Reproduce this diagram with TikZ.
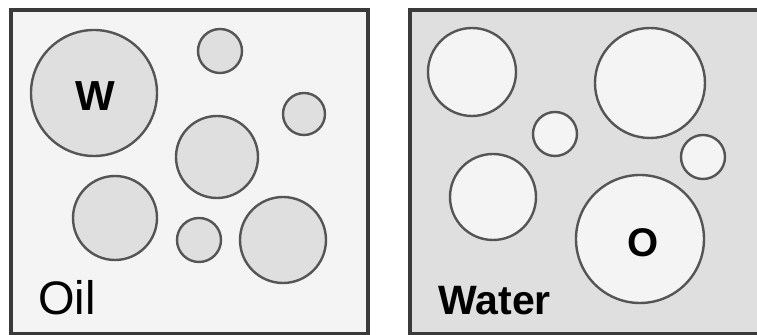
\documentclass[tikz,border=0pt]{standalone}
\usepackage{fontspec}
\setmainfont{Liberation Sans}
\usepackage{tikz}
\usetikzlibrary{positioning}
\definecolor{oilbg}{HTML}{F4F4F4}
\definecolor{waterbg}{HTML}{DFDFDF}
\definecolor{framegray}{HTML}{3A3A3A}
\definecolor{dropline}{HTML}{555555}

\begin{document}
\begin{tikzpicture}[x=0.5pt,y=-0.5pt,
    panel/.style={draw=framegray,line width=2pt},
    drop/.style={draw=dropline,line width=1.2pt},
    tag/.style={inner sep=0pt,text=black}]
  \useasboundingbox (0,0) rectangle (757,335);

  % oil panel
  \fill[oilbg] (11,10) rectangle (367.5,334);
  \foreach \cx/\cy/\r in {94/93/63, 220/51/22, 304/114/21, 217/157/41,
                          115/218/42, 199/240/22, 283/240/43}
    \draw[drop,fill=waterbg] (\cx,\cy) circle (\r);
  \draw[panel] (11,10) rectangle (367.5,334);
  \node[tag,font=\bfseries\fontsize{21pt}{21pt}\selectfont] (wdrop) at (95,96) {W};
  \node[tag,anchor=base west,font=\fontsize{23.5pt}{23.5pt}\selectfont] (oil) at (38,315) {Oil};

  % water panel
  \fill[waterbg] (410,10) rectangle (770,334);
  \foreach \cx/\cy/\r in {472/72/44, 555/134/22, 650/83/55, 703/157/22,
                          493/197/43, 640/239/64}
    \draw[drop,fill=oilbg] (\cx,\cy) circle (\r);
  \draw[panel] (410,10) rectangle (770,334);
  \node[tag,font=\bfseries\fontsize{20pt}{20pt}\selectfont] (odrop) at (643,242.5) {O};
  \node[tag,anchor=base west,font=\bfseries\fontsize{20.5pt}{20.5pt}\selectfont] (water) at (438,315) {Water};
\end{tikzpicture}
\end{document}
